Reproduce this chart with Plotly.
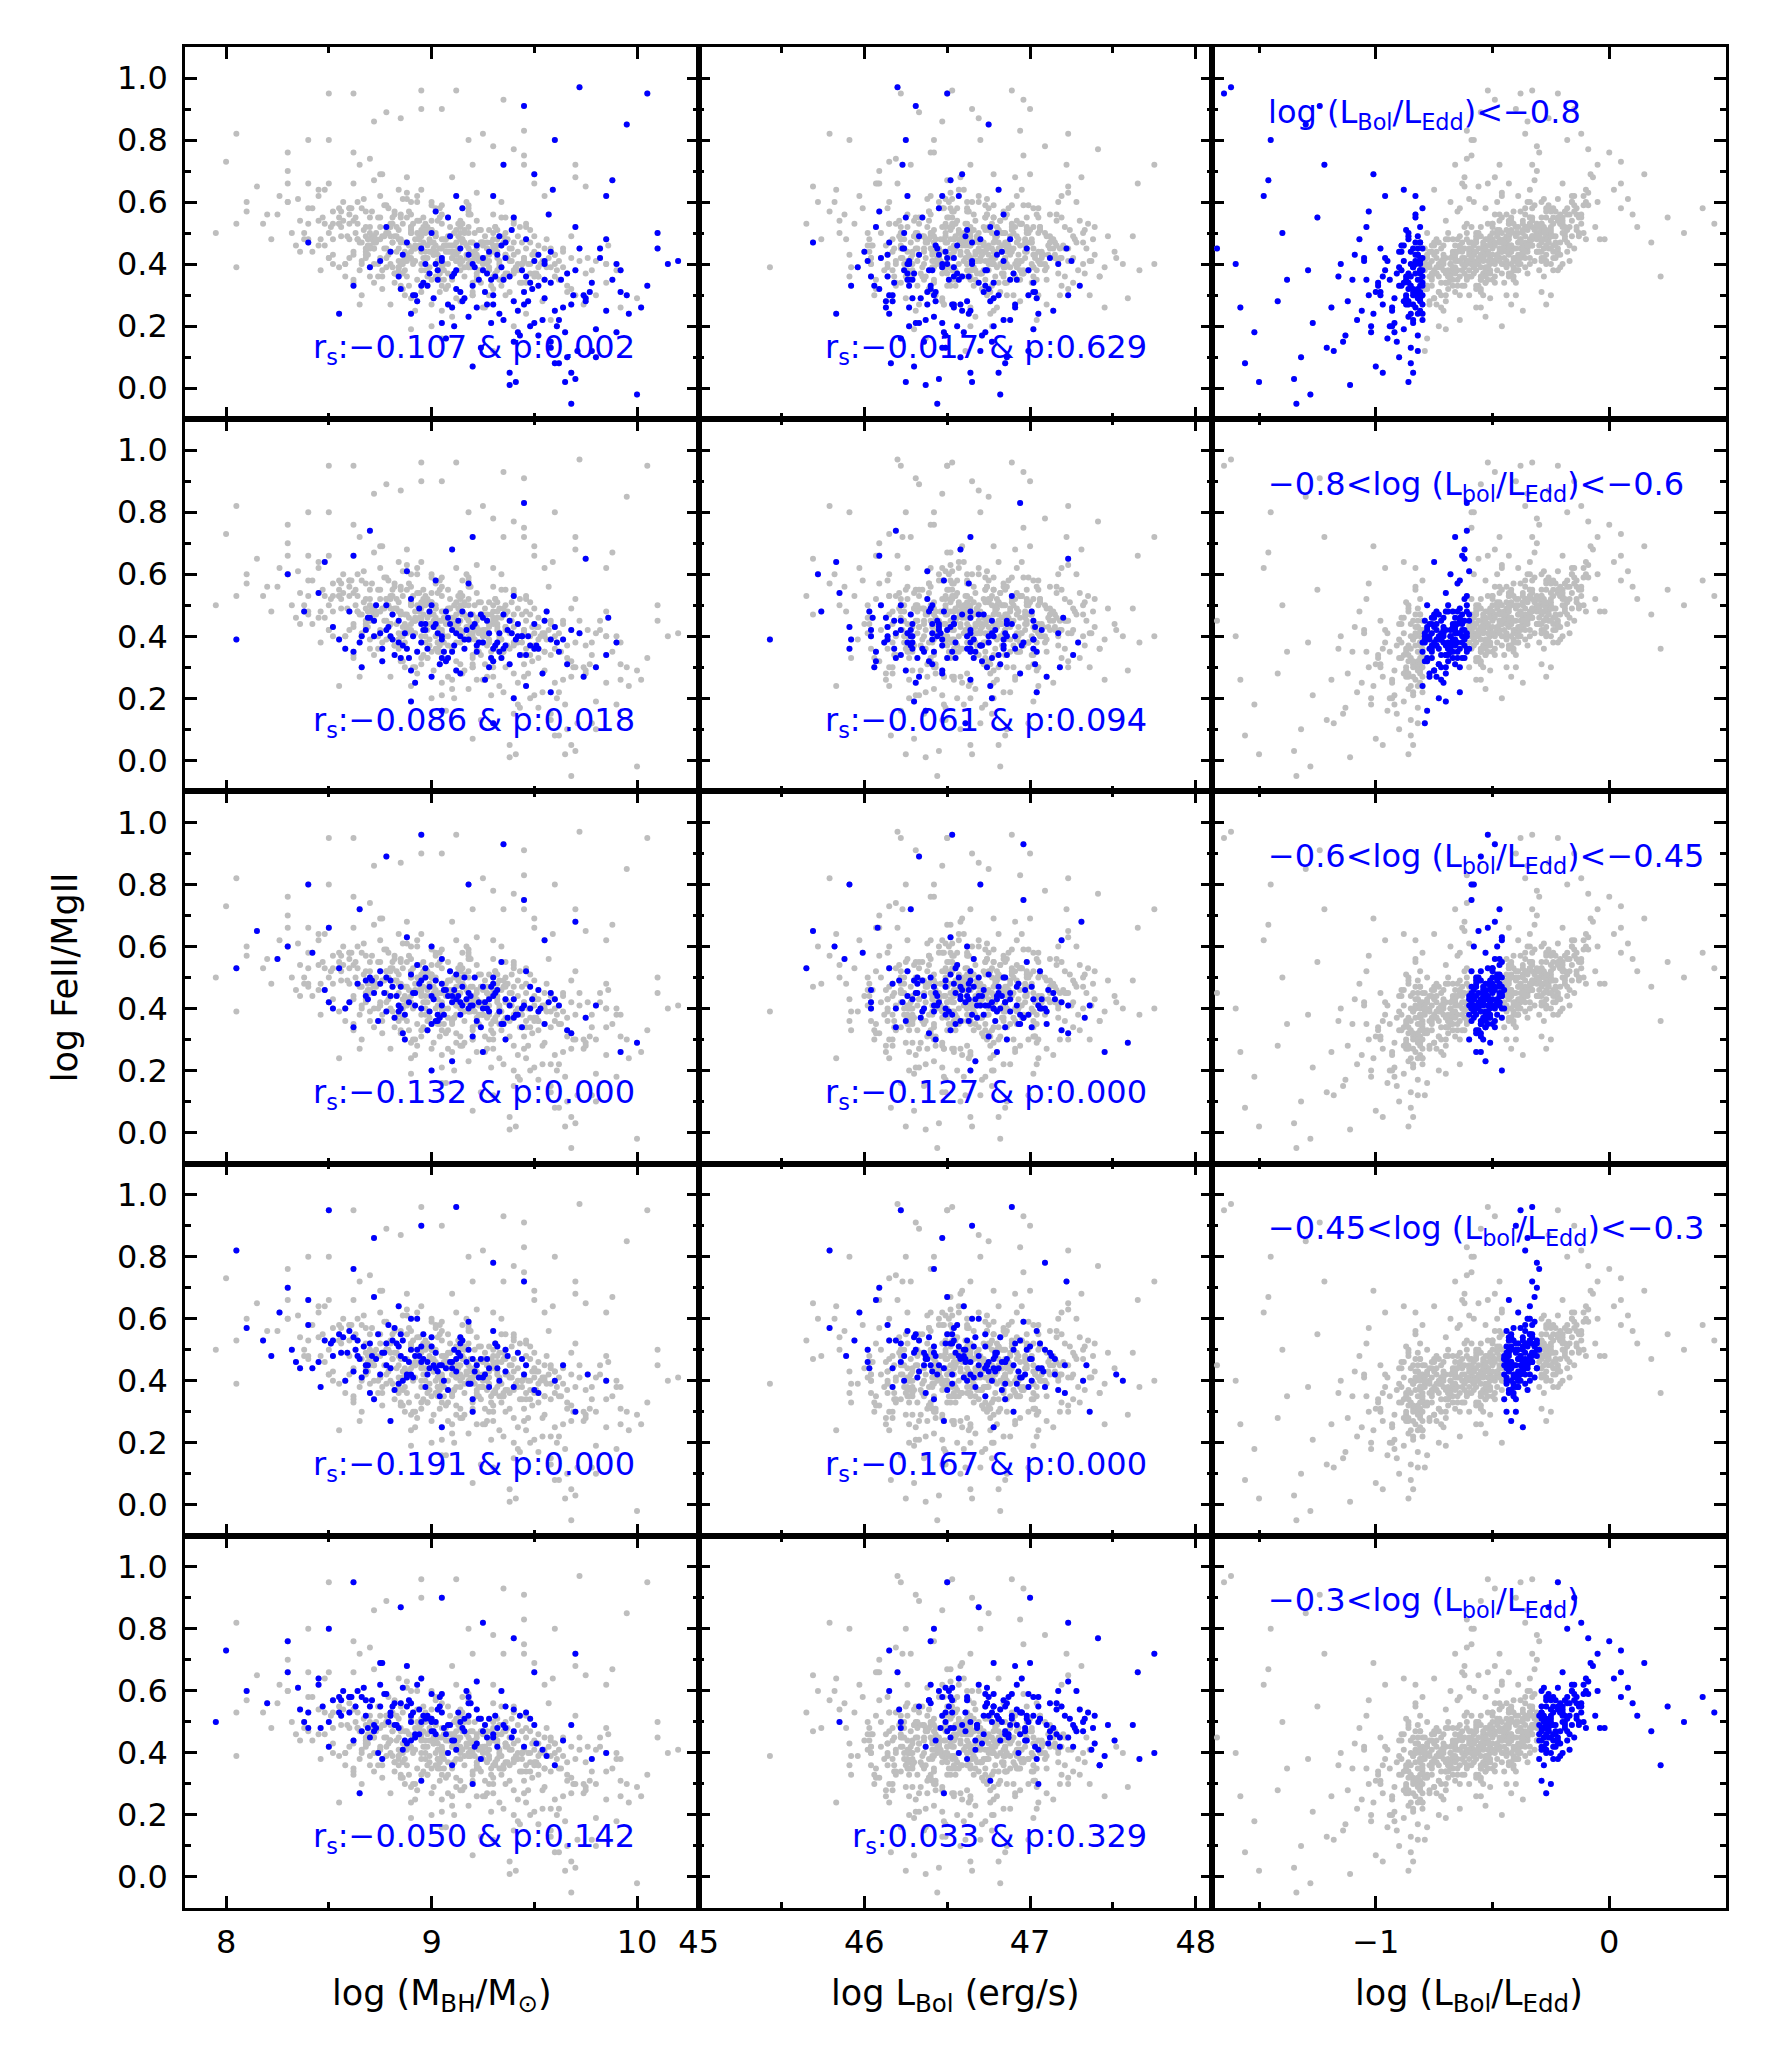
import plotly.graph_objects as go

# Each object: (log MBH/Msun, log Lbol/LEdd, log FeII/MgII), grouped by Eddington-ratio bin
BIN1 = [  # log(Lbol/LEdd) < -0.8
    (9.12,-0.81,0.38),(9.45,-0.83,0.31),(8.95,-0.82,0.45),(9.30,-0.86,0.27),(9.62,-0.84,0.22),
    (9.05,-0.88,0.41),(8.78,-0.81,0.52),(9.38,-0.85,0.36),(9.71,-0.82,0.12),(9.20,-0.90,0.33),
    (8.88,-0.83,0.47),(9.55,-0.87,0.29),(9.15,-0.80,0.58),(9.42,-0.92,0.18),(9.02,-0.85,0.40),
    (9.85,-0.81,0.25),(9.28,-0.89,0.44),(8.70,-0.84,0.39),(9.48,-0.80,0.34),(9.10,-0.93,0.26),
    (9.33,-0.82,0.49),(9.66,-0.86,0.37),(8.92,-0.87,0.30),(9.25,-0.81,0.42),(9.58,-0.91,0.15),
    (9.08,-0.83,0.55),(9.40,-0.88,0.28),(9.77,-0.84,0.31),(8.84,-0.80,0.36),(9.18,-0.86,0.23),
    (9.52,-0.82,0.43),(9.35,-0.94,0.35),(8.98,-0.81,0.33),(9.60,-0.85,0.08),(9.22,-0.89,0.46),
    (9.90,-0.83,0.40),(9.05,-0.84,0.21),(9.44,-0.80,0.38),(8.80,-0.90,0.44),(9.30,-0.83,0.62),
    (9.68,-0.87,0.27),(9.12,-0.82,0.32),(9.50,-0.95,0.41),(8.90,-0.85,0.24),(9.27,-0.81,0.37),
    (9.80,-0.88,0.19),(9.00,-0.86,0.50),(9.38,-0.84,0.05),(9.63,-0.81,0.35),(9.16,-0.92,0.29),
    (8.75,-0.83,0.41),(9.46,-0.86,0.48),(9.95,-0.82,0.30),(9.08,-0.80,0.27),(9.34,-0.90,0.39),
    (9.57,-0.83,0.56),(8.96,-0.88,0.34),(9.24,-0.85,0.13),(9.72,-0.84,0.45),(9.14,-0.81,0.31),
    (9.42,-0.93,0.25),(8.86,-0.82,0.43),(9.31,-0.87,0.36),(9.54,-0.80,0.22),(10.05,-0.85,0.33),
    (9.03,-0.89,0.38),(9.36,-0.81,0.47),(9.66,-0.90,0.10),(9.20,-0.83,0.40),(8.93,-0.86,0.28),
    (9.49,-0.84,0.32),(9.82,-0.80,0.42),(9.11,-0.94,0.20),(9.29,-0.82,0.35),(9.59,-0.88,0.64),
    (8.99,-0.83,0.37),(9.41,-0.86,0.02),(9.75,-0.81,0.29),(8.40,-0.81,0.47),(8.55,-0.82,0.24),
    (8.62,-0.80,0.33),
    (9.21,-0.84,0.39),(9.47,-0.81,0.28),(9.03,-0.87,0.35),(9.36,-0.96,0.42),(9.64,-0.83,0.26),
    (9.14,-0.80,0.45),(9.52,-0.89,0.33),(8.91,-0.84,0.30),(9.29,-0.92,0.21),(9.70,-0.81,0.38),
    (9.09,-0.86,0.49),(9.43,-0.82,0.17),(9.26,-0.98,0.31),(8.97,-0.81,0.40),(9.58,-0.85,0.44),
    (9.33,-0.80,0.24),(9.11,-0.91,0.37),(9.78,-0.86,0.34),(9.01,-0.82,0.29),(9.39,-0.87,0.51),
    (9.61,-0.93,0.20),(9.18,-0.83,0.43),(9.46,-0.97,0.36),(8.85,-0.86,0.32),(9.27,-0.84,0.27),
    (9.55,-0.81,0.41),(9.07,-0.95,0.16),(9.34,-0.88,0.46),(9.69,-0.80,0.30),(9.23,-1.04,0.35),
    (9.30,-0.98,0.30),(9.65,-1.02,0.18),(9.05,-1.05,0.42),(9.45,-0.97,0.27),(9.88,-1.10,0.35),
    (9.20,-1.00,0.07),(9.55,-1.15,0.40),(8.95,-0.99,0.33),(9.70,-1.04,0.52),(9.35,-1.08,0.22),
    (10.10,-0.98,0.45),(9.15,-1.12,0.28),(9.50,-1.01,0.69),(9.78,-1.18,0.12),(9.25,-0.96,0.38),
    (9.60,-1.06,0.25),(9.02,-1.03,0.57),(9.40,-1.14,0.15),(9.92,-1.00,0.31),(9.32,-1.09,0.43),
    (9.68,-0.97,0.05),(9.10,-1.16,0.36),(9.48,-1.02,0.20),(9.85,-1.07,0.48),(9.22,-1.19,0.26),
    (9.58,-0.99,0.34),(10.20,-1.05,0.41),(9.38,-1.11,0.01),(9.74,-1.03,0.30),(9.12,-0.96,0.62),
    (9.52,-1.13,0.17),(9.96,-1.01,0.24),
    (9.40,-1.25,0.55),(9.80,-1.32,0.10),(9.60,-1.45,0.80),(10.00,-1.28,-0.02),(9.55,-1.38,0.35),
    (9.90,-1.52,0.18),(9.35,-1.22,0.72),(10.15,-1.60,0.40),(9.70,-1.35,0.03),(9.85,-1.48,0.62),
    (9.50,-1.27,0.21),(10.05,-1.65,0.95),(9.75,-1.42,0.28),(9.95,-1.30,0.85),(9.62,-1.56,0.08),
    (10.10,-1.40,0.50),(9.45,-1.24,0.91),(9.82,-1.68,0.45),(9.68,-1.34,-0.05),(10.02,-1.58,0.26),
    (9.58,-1.21,0.13),(9.88,-1.46,0.67),(9.72,-1.62,0.97),(9.92,-1.29,0.38),(9.65,-1.50,0.02),
]
BIN2 = [  # -0.8 < log(Lbol/LEdd) < -0.6
    (9.05,-0.71,0.40),(8.72,-0.64,0.45),(9.34,-0.78,0.33),(8.90,-0.62,0.52),(9.50,-0.69,0.36),
    (9.12,-0.75,0.29),(8.60,-0.67,0.48),(9.28,-0.61,0.41),(9.66,-0.73,0.31),(8.95,-0.79,0.38),
    (9.18,-0.65,0.57),(8.82,-0.70,0.34),(9.42,-0.63,0.44),(9.00,-0.77,0.27),(9.58,-0.66,0.39),
    (8.68,-0.74,0.42),(9.22,-0.68,0.35),(9.80,-0.72,0.30),(8.88,-0.60,0.61),(9.36,-0.76,0.37),
    (9.08,-0.64,0.46),(8.52,-0.71,0.43),(9.46,-0.80,0.24),(9.14,-0.62,0.40),(8.78,-0.78,0.50),
    (9.30,-0.69,0.32),(9.72,-0.65,0.41),(8.98,-0.73,0.36),(9.24,-0.75,0.47),(8.65,-0.63,0.38),
    (9.54,-0.70,0.28),(9.02,-0.67,0.44),(8.85,-0.76,0.33),(9.40,-0.61,0.53),(9.16,-0.79,0.39),
    (9.62,-0.68,0.35),(8.75,-0.66,0.41),(9.26,-0.72,0.26),(8.94,-0.64,0.49),(9.48,-0.74,0.37),
    (9.10,-0.70,0.42),(8.58,-0.77,0.36),(9.38,-0.62,0.45),(9.85,-0.69,0.34),(9.04,-0.73,0.31),
    (8.80,-0.61,0.40),(9.20,-0.78,0.43),(9.56,-0.65,0.48),(8.92,-0.71,0.25),(9.32,-0.67,0.38),
    (8.70,-0.75,0.46),(9.44,-0.63,0.40),(9.06,-0.80,0.35),(9.68,-0.71,0.42),(8.86,-0.68,0.37),
    (9.28,-0.64,0.30),(8.45,-0.70,0.54),(9.12,-0.76,0.41),(9.52,-0.60,0.36),(8.97,-0.66,0.44),
    (9.35,-0.73,0.47),(8.76,-0.79,0.32),(9.18,-0.62,0.39),(9.74,-0.74,0.27),(9.00,-0.69,0.50),
    (8.62,-0.65,0.35),(9.42,-0.77,0.40),(9.08,-0.63,0.33),(8.84,-0.72,0.45),(9.25,-0.80,0.38),
    (9.60,-0.67,0.43),(8.90,-0.75,0.29),(9.15,-0.61,0.48),(9.46,-0.70,0.34),(8.72,-0.68,0.40),
    (9.30,-0.76,0.36),(9.02,-0.64,0.58),(8.55,-0.73,0.39),(9.38,-0.66,0.31),(9.90,-0.71,0.38),
    (8.96,-0.78,0.42),(9.22,-0.62,0.37),(8.66,-0.70,0.30),(9.50,-0.74,0.44),(9.10,-0.67,0.35),
    (8.81,-0.63,0.47),(9.33,-0.79,0.41),(9.05,-0.65,0.33),(9.64,-0.72,0.39),(8.88,-0.69,0.36),
    (9.27,-0.60,0.45),(8.38,-0.74,0.48),(9.44,-0.68,0.40),(9.14,-0.77,0.28),(8.78,-0.66,0.42),
    (9.03,-0.72,0.41),(8.84,-0.65,0.38),(9.21,-0.77,0.44),(8.93,-0.61,0.35),(9.37,-0.68,0.42),
    (9.11,-0.74,0.37),(8.69,-0.66,0.46),(9.29,-0.62,0.33),(9.47,-0.79,0.40),(8.99,-0.70,0.48),
    (9.16,-0.64,0.36),(8.79,-0.75,0.43),(9.41,-0.67,0.39),(9.07,-0.78,0.32),(9.55,-0.63,0.45),
    (8.87,-0.71,0.41),(9.23,-0.69,0.38),(8.73,-0.61,0.50),(9.33,-0.76,0.35),(9.01,-0.66,0.43),
    (8.91,-0.73,0.40),(9.19,-0.60,0.47),(9.43,-0.72,0.34),(8.81,-0.77,0.39),(9.09,-0.65,0.44),
    (9.31,-0.70,0.37),(8.97,-0.62,0.42),(9.61,-0.75,0.38),(8.76,-0.68,0.36),(9.13,-0.79,0.45),
    (9.39,-0.64,0.41),(9.05,-0.74,0.39),(8.89,-0.67,0.33),(9.25,-0.71,0.46),(8.66,-0.72,0.40),
    (9.51,-0.66,0.37),(9.17,-0.63,0.42),(8.95,-0.76,0.44),(9.35,-0.61,0.36),(9.07,-0.69,0.48),
    (8.05,-0.72,0.39),(9.20,-0.66,0.72),(8.62,-0.63,0.66),(9.45,-0.61,0.83),(9.05,-0.78,0.16),
    (8.90,-0.70,0.19),(9.58,-0.64,0.22),(8.48,-0.75,0.64),(9.75,-0.62,0.65),(9.30,-0.79,0.12),
    (8.70,-0.61,0.74),(9.86,-0.76,0.46),(8.30,-0.68,0.60),(9.10,-0.62,0.68),(9.40,-0.73,0.20),
]
BIN3 = [  # -0.6 < log(Lbol/LEdd) < -0.45
    (9.00,-0.52,0.44),(8.70,-0.48,0.50),(9.25,-0.57,0.40),(8.85,-0.46,0.47),(9.40,-0.54,0.37),
    (9.10,-0.59,0.42),(8.55,-0.50,0.53),(9.18,-0.47,0.45),(9.55,-0.55,0.35),(8.92,-0.58,0.41),
    (9.05,-0.49,0.56),(8.78,-0.53,0.39),(9.32,-0.45,0.46),(8.98,-0.56,0.33),(9.48,-0.51,0.40),
    (8.64,-0.57,0.48),(9.14,-0.52,0.38),(9.68,-0.55,0.32),(8.88,-0.46,0.63),(9.28,-0.58,0.43),
    (9.02,-0.48,0.49),(8.48,-0.54,0.46),(9.36,-0.60,0.30),(9.08,-0.47,0.44),(8.75,-0.59,0.52),
    (9.22,-0.53,0.36),(9.62,-0.49,0.41),(8.95,-0.56,0.40),(9.16,-0.57,0.50),(8.60,-0.47,0.42),
    (9.44,-0.53,0.34),(8.99,-0.51,0.47),(8.82,-0.58,0.37),(9.34,-0.46,0.55),(9.12,-0.59,0.43),
    (9.52,-0.52,0.39),(8.72,-0.50,0.45),(9.20,-0.55,0.31),(8.90,-0.48,0.51),(9.38,-0.56,0.41),
    (9.06,-0.53,0.46),(8.52,-0.58,0.40),(9.30,-0.47,0.48),(9.75,-0.52,0.37),(9.00,-0.55,0.35),
    (8.80,-0.46,0.44),(9.15,-0.59,0.47),(9.46,-0.50,0.52),(8.87,-0.54,0.30),(9.26,-0.51,0.42),
    (8.68,-0.57,0.49),(9.40,-0.48,0.43),(9.03,-0.60,0.38),(9.58,-0.54,0.45),(8.84,-0.52,0.41),
    (9.24,-0.49,0.34),(8.42,-0.53,0.58),(9.10,-0.58,0.44),(9.44,-0.45,0.40),(8.94,-0.50,0.48),
    (9.30,-0.56,0.50),(8.74,-0.59,0.36),(9.14,-0.47,0.42),(9.66,-0.57,0.33),(8.97,-0.52,0.53),
    (8.58,-0.49,0.40),(9.36,-0.58,0.43),(9.04,-0.46,0.37),(8.80,-0.55,0.49),(9.20,-0.60,0.41),
    (9.52,-0.51,0.46),(8.86,-0.57,0.32),(9.12,-0.47,0.51),(9.42,-0.53,0.38),(8.68,-0.52,0.44),
    (9.28,-0.58,0.39),(9.00,-0.48,0.60),(8.50,-0.56,0.42),(9.34,-0.50,0.35),(9.80,-0.54,0.41),
    (8.92,-0.59,0.45),(9.18,-0.46,0.40),(8.62,-0.53,0.34),(9.48,-0.57,0.47),(9.06,-0.51,0.38),
    (8.78,-0.48,0.50),(9.30,-0.60,0.44),(9.02,-0.49,0.36),(9.60,-0.55,0.43),(8.84,-0.52,0.39),
    (9.01,-0.53,0.43),(8.81,-0.49,0.47),(9.19,-0.56,0.41),(8.91,-0.46,0.45),(9.33,-0.55,0.39),
    (9.07,-0.58,0.46),(8.71,-0.51,0.49),(9.23,-0.48,0.42),(9.41,-0.57,0.38),(8.97,-0.50,0.50),
    (9.13,-0.54,0.44),(8.85,-0.59,0.40),(9.29,-0.47,0.47),(9.03,-0.55,0.36),(9.49,-0.52,0.43),
    (8.77,-0.56,0.45),(9.15,-0.50,0.41),(8.93,-0.47,0.54),(9.27,-0.59,0.40),(9.05,-0.52,0.48),
    (8.89,-0.54,0.42),(9.21,-0.46,0.50),(9.37,-0.51,0.37),(8.83,-0.57,0.44),(9.11,-0.49,0.46),
    (9.31,-0.53,0.45),(8.99,-0.58,0.39),(9.57,-0.48,0.42),(8.75,-0.53,0.48),(9.17,-0.60,0.43),
    (9.45,-0.50,0.41),(9.09,-0.55,0.52),(8.87,-0.48,0.38),(9.25,-0.54,0.47),(8.69,-0.50,0.43),
    (9.53,-0.57,0.40),(9.19,-0.46,0.44),(8.95,-0.56,0.49),(9.35,-0.52,0.35),(9.05,-0.47,0.41),
    (8.05,-0.50,0.53),(8.15,-0.56,0.65),(8.25,-0.47,0.56),(8.30,-0.58,0.60),(8.95,-0.52,0.96),
    (9.35,-0.49,0.93),(8.78,-0.55,0.89),(9.18,-0.58,0.80),(9.00,-0.46,0.20),(9.10,-0.53,0.23),
    (9.92,-0.57,0.26),(10.00,-0.51,0.29),(9.55,-0.46,0.62),(8.40,-0.59,0.80),(9.70,-0.49,0.68),
    (8.65,-0.47,0.72),(9.25,-0.55,0.26),(8.50,-0.52,0.66),(9.45,-0.59,0.75),
]
BIN4 = [  # -0.45 < log(Lbol/LEdd) < -0.3
    (8.85,-0.38,0.48),(8.55,-0.34,0.55),(9.10,-0.42,0.44),(8.70,-0.31,0.52),(9.25,-0.40,0.41),
    (8.95,-0.44,0.46),(8.40,-0.36,0.58),(9.02,-0.33,0.49),(9.40,-0.41,0.38),(8.78,-0.43,0.45),
    (8.90,-0.35,0.60),(8.62,-0.39,0.43),(9.18,-0.30,0.50),(8.82,-0.42,0.37),(9.32,-0.37,0.44),
    (8.48,-0.43,0.53),(8.98,-0.38,0.42),(9.52,-0.41,0.36),(8.72,-0.32,0.67),(9.12,-0.44,0.47),
    (8.86,-0.34,0.53),(8.32,-0.40,0.50),(9.20,-0.45,0.34),(8.92,-0.33,0.48),(8.60,-0.44,0.56),
    (9.06,-0.39,0.40),(9.46,-0.35,0.45),(8.80,-0.42,0.44),(9.00,-0.43,0.54),(8.45,-0.33,0.46),
    (9.28,-0.39,0.38),(8.84,-0.37,0.51),(8.66,-0.44,0.41),(9.18,-0.32,0.59),(8.96,-0.45,0.47),
    (9.36,-0.38,0.43),(8.56,-0.36,0.49),(9.04,-0.41,0.35),(8.74,-0.34,0.55),(9.22,-0.42,0.45),
    (8.90,-0.39,0.50),(8.36,-0.43,0.44),(9.14,-0.33,0.52),(9.60,-0.38,0.40),(8.84,-0.41,0.39),
    (8.64,-0.31,0.48),(9.00,-0.44,0.51),(9.30,-0.36,0.56),(8.72,-0.40,0.34),(9.10,-0.37,0.46),
    (8.52,-0.43,0.53),(9.24,-0.34,0.47),(8.88,-0.45,0.42),(9.42,-0.40,0.49),(8.68,-0.38,0.45),
    (9.08,-0.35,0.37),(8.26,-0.39,0.62),(8.94,-0.44,0.48),(9.28,-0.31,0.44),(8.78,-0.36,0.52),
    (9.14,-0.42,0.54),(8.58,-0.44,0.40),(8.98,-0.33,0.46),(9.50,-0.43,0.37),(8.82,-0.38,0.57),
    (8.42,-0.35,0.44),(9.20,-0.44,0.47),(8.88,-0.32,0.41),(8.64,-0.41,0.53),(9.04,-0.45,0.45),
    (9.36,-0.37,0.50),(8.70,-0.43,0.36),(8.96,-0.33,0.55),(9.26,-0.39,0.42),(8.52,-0.38,0.48),
    (9.12,-0.43,0.43),(8.84,-0.34,0.64),(8.34,-0.42,0.46),(9.18,-0.36,0.39),(9.64,-0.40,0.45),
    (8.76,-0.44,0.49),(9.02,-0.31,0.44),(8.46,-0.39,0.38),(9.32,-0.42,0.51),(8.90,-0.36,0.42),
    (8.62,-0.33,0.54),(9.14,-0.45,0.48),(8.86,-0.34,0.40),(9.44,-0.39,0.47),(8.68,-0.37,0.43),
    (8.87,-0.39,0.47),(8.67,-0.35,0.51),(9.05,-0.41,0.45),(8.77,-0.32,0.49),(9.21,-0.38,0.43),
    (8.93,-0.43,0.50),(8.57,-0.37,0.54),(9.09,-0.34,0.46),(9.33,-0.42,0.40),(8.83,-0.40,0.52),
    (8.99,-0.36,0.44),(8.71,-0.44,0.48),(9.15,-0.31,0.53),(8.91,-0.41,0.41),(9.27,-0.36,0.47),
    (8.63,-0.42,0.50),(9.01,-0.37,0.45),(9.45,-0.40,0.42),(8.79,-0.33,0.58),(9.13,-0.43,0.49),
    (8.89,-0.35,0.46),(8.51,-0.39,0.52),(9.19,-0.44,0.39),(8.95,-0.32,0.51),(8.73,-0.45,0.47),
    (9.03,-0.38,0.43),(9.37,-0.34,0.48),(8.85,-0.42,0.55),(9.07,-0.44,0.44),(8.59,-0.33,0.49),
    (9.23,-0.39,0.41),(8.81,-0.37,0.53),(8.69,-0.43,0.45),(9.11,-0.31,0.50),(8.97,-0.40,0.38),
    (9.31,-0.35,0.52),(8.65,-0.38,0.47),(9.17,-0.42,0.46),(8.93,-0.34,0.60),(8.75,-0.41,0.42),
    (8.05,-0.36,0.82),(8.10,-0.41,0.57),(8.18,-0.34,0.53),(8.22,-0.43,0.48),(8.50,-0.38,0.95),
    (9.12,-0.33,0.96),(8.95,-0.40,0.90),(8.72,-0.35,0.86),(9.30,-0.31,0.78),(8.80,-0.42,0.27),
    (9.05,-0.37,0.25),(9.70,-0.44,0.30),(9.85,-0.39,0.40),(9.76,-0.34,0.42),(8.30,-0.31,0.70),
    (9.45,-0.33,0.72),(8.62,-0.30,0.76),(9.20,-0.40,0.30),(8.40,-0.43,0.66),
]
BIN5 = [  # log(Lbol/LEdd) > -0.3
    (8.90,-0.25,0.52),(8.60,-0.18,0.58),(9.15,-0.28,0.48),(8.75,-0.12,0.55),(9.30,-0.22,0.45),
    (9.00,-0.27,0.50),(8.45,-0.15,0.62),(9.05,-0.20,0.53),(9.45,-0.29,0.42),(8.82,-0.24,0.49),
    (8.95,-0.10,0.64),(8.66,-0.26,0.47),(9.22,-0.16,0.54),(8.86,-0.29,0.41),(9.36,-0.19,0.48),
    (8.52,-0.23,0.57),(9.02,-0.27,0.46),(9.56,-0.21,0.39),(8.76,-0.08,0.69),(9.16,-0.28,0.51),
    (8.90,-0.14,0.56),(8.36,-0.25,0.54),(9.24,-0.30,0.38),(8.96,-0.17,0.52),(8.64,-0.29,0.60),
    (9.10,-0.22,0.44),(9.50,-0.13,0.49),(8.84,-0.26,0.48),(9.04,-0.27,0.58),(8.50,-0.11,0.50),
    (9.32,-0.24,0.42),(8.88,-0.20,0.55),(8.70,-0.28,0.45),(9.22,-0.09,0.63),(9.00,-0.29,0.51),
    (9.40,-0.18,0.47),(8.60,-0.21,0.53),(9.08,-0.25,0.40),(8.78,-0.15,0.59),(9.26,-0.26,0.49),
    (8.94,-0.22,0.54),(8.40,-0.28,0.48),(9.18,-0.12,0.56),(9.64,-0.23,0.44),(8.88,-0.27,0.43),
    (8.68,-0.06,0.52),(9.04,-0.29,0.55),(9.34,-0.16,0.60),(8.76,-0.24,0.38),(9.14,-0.19,0.50),
    (8.56,-0.27,0.57),(9.28,-0.14,0.51),(8.92,-0.30,0.46),(9.46,-0.21,0.53),(8.72,-0.23,0.49),
    (9.12,-0.17,0.41),(8.30,-0.20,0.66),(8.98,-0.28,0.52),(9.32,-0.04,0.48),(8.82,-0.18,0.56),
    (9.18,-0.26,0.58),(8.62,-0.29,0.44),(9.02,-0.13,0.50),(9.54,-0.27,0.41),(8.86,-0.22,0.61),
    (8.46,-0.10,0.48),(9.24,-0.28,0.51),(8.92,-0.15,0.45),(8.68,-0.25,0.57),(9.08,-0.30,0.49),
    (9.40,-0.20,0.54),(8.74,-0.27,0.40),(9.00,-0.11,0.59),(9.30,-0.24,0.46),(8.56,-0.19,0.52),
    (9.16,-0.29,0.47),(8.88,-0.07,0.68),(8.38,-0.26,0.50),(9.22,-0.21,0.43),(9.68,-0.16,0.49),
    (8.80,-0.29,0.53),(9.06,-0.02,0.48),(8.50,-0.23,0.42),(9.36,-0.27,0.55),(8.94,-0.17,0.46),
    (8.66,-0.14,0.58),(9.18,-0.30,0.52),(8.90,-0.18,0.44),(9.48,-0.25,0.51),(8.72,-0.21,0.47),
    (8.91,-0.24,0.53),(8.71,-0.19,0.57),(9.09,-0.27,0.49),(8.81,-0.13,0.55),(9.25,-0.23,0.47),
    (8.99,-0.28,0.51),(8.57,-0.16,0.60),(9.03,-0.21,0.54),(9.39,-0.26,0.45),(8.79,-0.25,0.50),
    (8.93,-0.11,0.62),(8.69,-0.27,0.48),(9.19,-0.17,0.56),(8.87,-0.30,0.44),(9.31,-0.20,0.52),
    (8.61,-0.24,0.58),(9.01,-0.26,0.47),(9.51,-0.22,0.43),(8.77,-0.09,0.59),(9.13,-0.29,0.53),
    (8.89,-0.15,0.57),(8.47,-0.24,0.55),(9.21,-0.28,0.42),(8.97,-0.18,0.51),(8.67,-0.28,0.61),
    (9.07,-0.23,0.46),(9.43,-0.14,0.52),(8.83,-0.25,0.49),(9.05,-0.26,0.59),(8.55,-0.12,0.53),
    (9.27,-0.25,0.45),(8.85,-0.21,0.56),(8.73,-0.29,0.48),(9.17,-0.10,0.60),(8.95,-0.28,0.50),
    (9.35,-0.19,0.49),(8.63,-0.22,0.55),(9.11,-0.24,0.44),(8.75,-0.16,0.62),(9.23,-0.27,0.51),
    (8.60,0.05,0.58),(8.80,0.12,0.52),(8.45,0.02,0.64),(9.00,0.18,0.47),(8.70,0.25,0.55),
    (8.35,0.08,0.61),(8.90,0.32,0.50),(8.55,0.40,0.58),(8.75,0.15,0.69),(8.40,0.45,0.53),
    (9.10,0.22,0.36),(8.20,0.10,0.56),(8.10,-0.05,0.60),(7.95,-0.20,0.50),(8.00,0.05,0.73),
    (8.62,-0.22,0.95),(9.05,-0.15,0.90),(8.85,-0.26,0.87),(9.25,-0.12,0.82),(8.50,-0.18,0.80),
    (9.40,-0.09,0.77),(8.95,-0.29,0.31),(9.20,-0.25,0.30),(9.60,-0.28,0.36),(9.78,-0.22,0.38),
    (9.85,-0.20,0.40),(8.30,0.00,0.76),(8.65,-0.27,0.27),(9.50,0.05,0.66),(9.70,-0.05,0.72),
]
BINS = [BIN1, BIN2, BIN3, BIN4, BIN5]
LOG_LEDD_PER_MSUN = 38.1  # log(1.26e38 erg/s)

RS_MBH = ["r<sub>s</sub>:−0.107 & p:0.002", "r<sub>s</sub>:−0.086 & p:0.018",
          "r<sub>s</sub>:−0.132 & p:0.000", "r<sub>s</sub>:−0.191 & p:0.000",
          "r<sub>s</sub>:−0.050 & p:0.142"]
RS_LBOL = ["r<sub>s</sub>:−0.017 & p:0.629", "r<sub>s</sub>:−0.061 & p:0.094",
           "r<sub>s</sub>:−0.127 & p:0.000", "r<sub>s</sub>:−0.167 & p:0.000",
           "r<sub>s</sub>:0.033 & p:0.329"]
BIN_LABELS = ["log (L<sub>Bol</sub>/L<sub>Edd</sub>)<−0.8",
              "−0.8<log (L<sub>bol</sub>/L<sub>Edd</sub>)<−0.6",
              "−0.6<log (L<sub>bol</sub>/L<sub>Edd</sub>)<−0.45",
              "−0.45<log (L<sub>bol</sub>/L<sub>Edd</sub>)<−0.3",
              "−0.3<log (L<sub>bol</sub>/L<sub>Edd</sub>)"]
X_TITLES = ["log (M<sub>BH</sub>/M<sub>⊙</sub>)", "log L<sub>Bol</sub> (erg/s)",
            "log (L<sub>Bol</sub>/L<sub>Edd</sub>)"]
Y_TITLE = "log FeII/MgII"
X_RANGES = [[7.8, 10.3], [45.0, 48.1], [-1.7, 0.5]]
X_TICKS = [[8, 9, 10], [45, 46, 47, 48], [-1, 0]]
X_TICKTEXT = [["8", "9", "10"], ["45", "46", "47", "48"], ["−1", "0"]]
X_MINOR = [[8.5, 9.5], [45.5, 46.5, 47.5], [-1.5, -0.5]]
Y_TICKS = [0.0, 0.2, 0.4, 0.6, 0.8, 1.0]
Y_MINOR = [0.1, 0.3, 0.5, 0.7, 0.9]


def columns(objs):
    mbh = [o[0] for o in objs]
    edd = [o[1] for o in objs]
    fe = [o[2] for o in objs]
    lbol = [m + e + LOG_LEDD_PER_MSUN for m, e in zip(mbh, edd)]
    return [mbh, lbol, edd], fe


ALL = [o for b in BINS for o in b]
gray_x, gray_y = columns(ALL)

GRAY = "#bebebe"
BLUE = "#0000ff"
MS = 6
FONT = "DejaVu Sans"

fig = go.Figure()
layout = {}
annotations = []
for r in range(5):
    bx, by = columns(BINS[r])
    for c in range(3):
        idx = r * 3 + c + 1
        sfx = "" if idx == 1 else str(idx)
        fig.add_trace(go.Scatter(x=gray_x[c], y=gray_y, mode="markers",
                                 marker=dict(color=GRAY, size=MS, line=dict(width=0)),
                                 xaxis="x" + sfx, yaxis="y" + sfx, hoverinfo="skip",
                                 showlegend=False))
        fig.add_trace(go.Scatter(x=bx[c], y=by, mode="markers",
                                 marker=dict(color=BLUE, size=MS, line=dict(width=0)),
                                 xaxis="x" + sfx, yaxis="y" + sfx, hoverinfo="skip",
                                 showlegend=False))
        common = dict(ticks="inside", ticklen=12, tickwidth=3, tickcolor="black",
                      showline=True, linewidth=2.5, linecolor="black", mirror="ticks",
                      showgrid=False, zeroline=False,
                      tickfont=dict(family=FONT, size=32, color="black"))
        layout["xaxis" + sfx] = dict(
            domain=[c / 3, (c + 1) / 3], range=X_RANGES[c], anchor="y" + sfx,
            tickmode="array", tickvals=X_TICKS[c], ticktext=X_TICKTEXT[c],
            showticklabels=(r == 4), ticklabelstandoff=4,
            minor=dict(tickvals=X_MINOR[c], ticks="inside", ticklen=6, tickwidth=3,
                       tickcolor="black", showgrid=False),
            **common)
        layout["yaxis" + sfx] = dict(
            domain=[1 - (r + 1) / 5, 1 - r / 5], range=[-0.1, 1.1], anchor="x" + sfx,
            tickmode="array", tickvals=Y_TICKS, ticktext=["%.1f" % v for v in Y_TICKS],
            showticklabels=(c == 0), ticklabelstandoff=8,
            minor=dict(tickvals=Y_MINOR, ticks="inside", ticklen=6, tickwidth=3,
                       tickcolor="black", showgrid=False),
            **common)
        afont = dict(family=FONT, size=32, color=BLUE)
        if c == 0:
            annotations.append(dict(text=RS_MBH[r], x=10.0, y=0.125, xref="x" + sfx,
                                    yref="y" + sfx, xanchor="right", yanchor="middle",
                                    showarrow=False, font=afont))
        elif c == 1:
            annotations.append(dict(text=RS_LBOL[r], x=47.72, y=0.125, xref="x" + sfx,
                                    yref="y" + sfx, xanchor="right", yanchor="middle",
                                    showarrow=False, font=afont))
        else:
            annotations.append(dict(text=BIN_LABELS[r], x=-1.47, y=0.885, xref="x" + sfx,
                                    yref="y" + sfx, xanchor="left", yanchor="middle",
                                    showarrow=False, font=afont))

for c in range(3):
    annotations.append(dict(text=X_TITLES[c], x=(c + 0.5) / 3, y=-0.047, xref="paper",
                            yref="paper", xanchor="center", yanchor="middle",
                            showarrow=False, font=dict(family=FONT, size=35, color="black")))
annotations.append(dict(text=Y_TITLE, x=-0.078, y=0.5, xref="paper", yref="paper",
                        xanchor="center", yanchor="middle", textangle=-90, showarrow=False,
                        font=dict(family=FONT, size=35, color="black")))

fig.update_layout(width=1770, height=2066, plot_bgcolor="white", paper_bgcolor="white",
                  margin=dict(l=177, r=52, t=39, b=166), annotations=annotations,
                  font=dict(family=FONT, color="black"), **layout)
fig.write_html("out.html")
